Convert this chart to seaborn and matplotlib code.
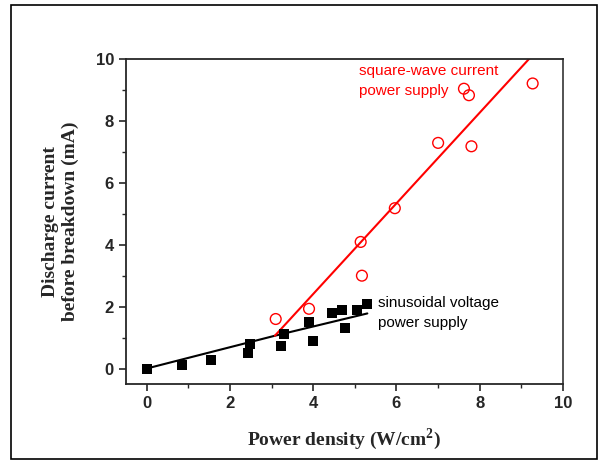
import numpy as np
import pandas as pd
import seaborn as sns
import matplotlib.pyplot as plt
from matplotlib.patches import Rectangle
from matplotlib.ticker import MultipleLocator

# sinusoidal voltage power supply (black squares)
sin_x = [0, 0.85, 1.55, 2.44, 2.48, 3.23, 3.30, 3.90, 4.00, 4.45, 4.69, 4.77, 5.06, 5.30]
sin_y = [0, 0.10, 0.29, 0.50, 0.80, 0.74, 1.10, 1.50, 0.88, 1.78, 1.88, 1.31, 1.88, 2.07]
sin_fit_x = [0, 3.08, 5.30]
sin_fit_y = [0, 1.06, 1.78]

# square-wave current power supply (red circles)
sq_x = [3.10, 3.90, 5.17, 5.14, 5.96, 7.00, 7.80, 7.62, 7.74, 9.27]
sq_y = [1.60, 1.93, 3.00, 4.09, 5.18, 7.29, 7.18, 9.04, 8.83, 9.21]
sq_fit_x = [3.08, 9.25]
sq_fit_y = [1.06, 10.1]

sns.set_style("ticks")
plt.rcParams['font.family'] = ['Liberation Sans', 'DejaVu Sans']

fig = plt.figure(figsize=(5.99, 4.61), dpi=100)
ax = fig.add_axes([0.210, 0.167, 0.730, 0.705])

# 바깥 테두리
fig.patches.append(Rectangle((0.018, 0.004), 0.979, 0.985, transform=fig.transFigure,
                             fill=False, edgecolor='black', linewidth=1.2))

sns.lineplot(x=sin_fit_x, y=sin_fit_y, color='black', linewidth=1.5, ax=ax)
sns.lineplot(x=sq_fit_x, y=sq_fit_y, color='red', linewidth=1.5, ax=ax)
sns.scatterplot(x=sin_x, y=sin_y, marker='s', s=55, color='black', edgecolor='black',
                linewidth=0, ax=ax, zorder=3)
sns.scatterplot(x=sq_x, y=sq_y, marker='o', s=60, facecolor='none', edgecolor='red',
                linewidth=1.0, ax=ax, zorder=3)

ax.set_xlim(-0.5, 10)
ax.set_ylim(-0.5, 10)
ax.xaxis.set_major_locator(MultipleLocator(2))
ax.xaxis.set_minor_locator(MultipleLocator(1))
ax.yaxis.set_major_locator(MultipleLocator(2))
ax.yaxis.set_minor_locator(MultipleLocator(1))
ax.tick_params(which='major', direction='out', length=5, width=1.2, labelsize=12)
ax.tick_params(which='minor', direction='out', length=3, width=1.0)
for lab in ax.get_xticklabels() + ax.get_yticklabels():
    lab.set_fontweight('bold')
for sp in ax.spines.values():
    sp.set_visible(True)
    sp.set_linewidth(1.3)
ax.spines['right'].set_color('#444444')

ax.set_xlabel('Power density (W/cm$^\\mathregular{2}$)', family='Liberation Serif',
              fontweight='bold', fontsize=14, labelpad=11)
ax.set_ylabel('Discharge current\nbefore breakdown (mA)', family='Liberation Serif',
              fontweight='bold', fontsize=14, labelpad=12)

ax.text(5.1, 9.85, 'square-wave current\npower supply', color='red', fontsize=11,
        va='top', ha='left', linespacing=1.55)
ax.text(5.55, 2.35, 'sinusoidal voltage\npower supply', color='black', fontsize=11,
        va='top', ha='left', linespacing=1.55)

fig.savefig('out.png', dpi=100)
